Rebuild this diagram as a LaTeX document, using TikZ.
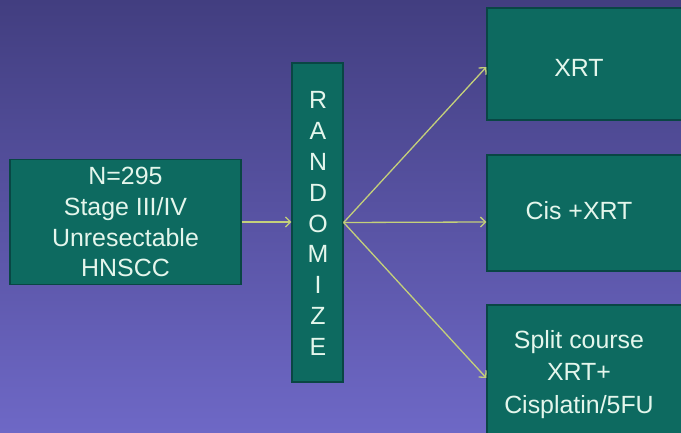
\documentclass[tikz,border=0pt]{standalone}
\usepackage{fontspec}
\setmainfont{Liberation Sans}
\usetikzlibrary{arrows.meta}
\definecolor{bgtop}{RGB}{66,62,128}
\definecolor{bgbot}{RGB}{110,104,198}
\definecolor{boxfill}{RGB}{13,106,96}
\definecolor{boxedge}{RGB}{9,70,68}
\definecolor{txt}{RGB}{228,246,236}
\definecolor{arr}{RGB}{196,208,122}
\begin{document}
\begin{tikzpicture}[x=1bp,y=-1bp,
  box/.style={fill=boxfill, draw=boxedge, line width=1.3bp, inner sep=0, rectangle},
  lbl/.style={text=txt, font=\fontsize{25}{31}\selectfont, align=center, inner sep=0},
  link/.style={draw=arr, line width=1.3bp, -{Straight Barb[length=5bp,width=10bp,line width=1.3bp]}}]
  \useasboundingbox (0,0) rectangle (681,433);
  \clip (0,0) rectangle (681,433);
  % backdrop
  \shade[top color=bgtop, bottom color=bgbot] (0,0) rectangle (681,433);

  % boxes
  \node[box, minimum width=231bp, minimum height=125bp] (pop) at (125.5,222) {};
  \node[box, minimum width=51bp, minimum height=319bp] (rand) at (317.5,222.5) {};
  \node[box, minimum width=204bp, minimum height=112bp] (xrt) at (589,64) {};
  \node[box, minimum width=204bp, minimum height=116bp] (cis) at (589,213) {};
  \node[box, minimum width=204bp, minimum height=140bp] (split) at (589,375) {};

  % labels
  \node[lbl] (popt) at (125.5,222) {N=295\\Stage III/IV\\Unresectable\\HNSCC};
  \node[lbl] (randt) at (318,223.5) {R\\A\\N\\D\\O\\M\\I\\Z\\E};
  \node[lbl] (xrtt) at (579,68) {XRT};
  \node[lbl] (cist) at (579,211) {Cis +XRT};
  \node[lbl, font=\fontsize{25}{32.5}\selectfont] (splitt) at (579,374.5) {Split course\\XRT+\\Cisplatin/5FU};

  % connectors
  \draw[link] (pop.east) -- (rand.west |- pop.east);
  \draw[link] (rand.east) -- (xrt.west |- 0,67);
  \draw[link] (rand.east) -- (cis.west |- 0,222);
  \draw[link] (rand.east) -- (split.west |- 0,378);
\end{tikzpicture}
\end{document}
